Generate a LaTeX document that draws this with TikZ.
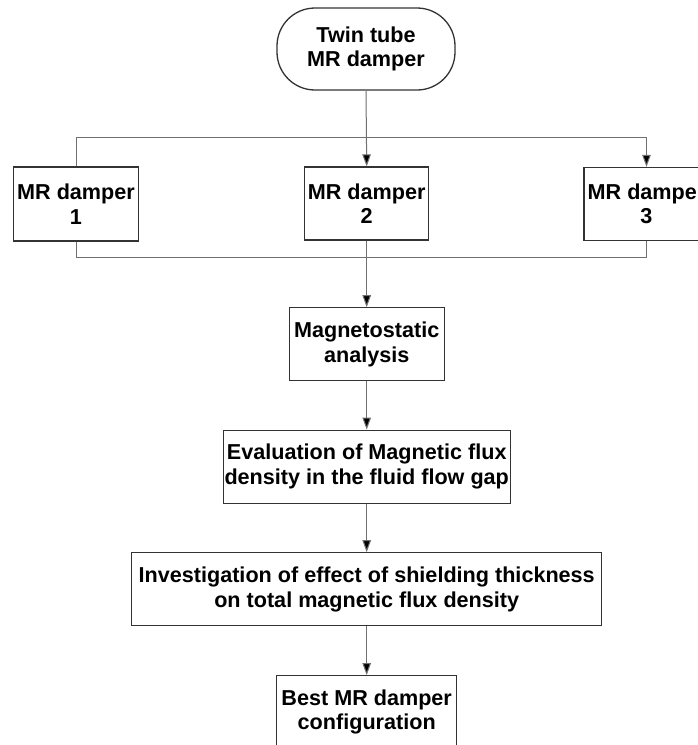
\documentclass[tikz,border=0pt]{standalone}
\usepackage{fontspec}
\setmainfont{Liberation Sans}
\usetikzlibrary{arrows.meta}

\definecolor{linegray}{HTML}{707070}
\definecolor{boxgray}{HTML}{333333}

\tikzset{
    block/.style={draw=boxgray, line width=1.3pt, fill=white, align=center,
        inner sep=0pt, font=\fontsize{21.6}{24.5}\selectfont\bfseries},
    startbox/.style={block, rounded corners=38pt},
    link/.style={draw=linegray, line width=1pt},
    arr/.style={link, -{Triangle[length=12pt,width=8.5pt,fill=black]}}
}

\begin{document}
\begin{tikzpicture}[x=1pt, y=-1pt]
    \clip (0,0) rectangle (698,745);
    \fill[white] (0,0) rectangle (698,745);

    \node[startbox, minimum width=178pt, minimum height=82pt] (twin) at (366,49) {Twin tube\\MR damper};

    \node[block, minimum width=125pt, minimum height=74pt] (damper1) at (76,204) {MR damper\\1};
    \node[block, minimum width=124pt, minimum height=73pt] (damper2) at (366.7,203.5) {MR damper\\2};
    \node[block, minimum width=125pt, minimum height=73pt] (damper3) at (646.5,204) {MR damper\\3};

    \node[block, minimum width=155pt, minimum height=73pt] (magneto) at (366.7,344.3) {Magnetostatic\\analysis};
    \node[block, minimum width=287pt, minimum height=73pt] (evaluation) at (366.7,466.7) {Evaluation of Magnetic flux\\density in the fluid flow gap};
    \node[block, minimum width=470pt, minimum height=73pt] (shielding) at (366.7,589.3) {Investigation of effect of shielding thickness\\on total magnetic flux density};
    \node[block, minimum width=180pt, minimum height=73pt] (best) at (366.7,712.2) {Best MR damper\\configuration};

    \coordinate (splitT) at (366.7,137.5);
    \coordinate (joinB) at (366.7,257.5);

    \draw[arr] (twin.south) -- (damper2.north);
    \draw[link] (damper1.north) |- (splitT);
    \draw[arr] (splitT) -| (damper3.north);
    \draw[link] (damper1.south) |- (joinB) -| (damper3.south);
    \draw[arr] (damper2.south) -- (magneto.north);
    \draw[arr] (magneto.south) -- (evaluation.north);
    \draw[arr] (evaluation.south) -- (shielding.north);
    \draw[arr] (shielding.south) -- (best.north);
\end{tikzpicture}
\end{document}
